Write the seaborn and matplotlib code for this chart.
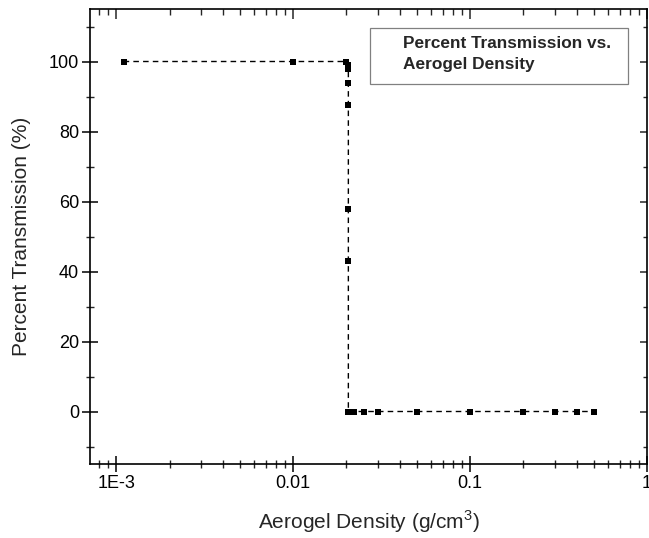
import numpy as np
import pandas as pd
import matplotlib
matplotlib.use('Agg')
import matplotlib.pyplot as plt
import matplotlib.ticker as mticker
from matplotlib.patches import Rectangle
import seaborn as sns

# --- DATA ---
density = [0.0011, 0.01, 0.0200, 0.0204, 0.0205, 0.0205, 0.0205, 0.0205, 0.0205,
           0.0205, 0.021, 0.022, 0.025, 0.03, 0.05, 0.1, 0.2, 0.3, 0.4, 0.5]
transmission = [100, 100, 100, 99, 98, 94, 87.5, 58, 43,
                0, 0, 0, 0, 0, 0, 0, 0, 0, 0, 0]
x_ticks = [1e-3, 1e-2, 1e-1, 1]
x_tick_labels = ['1E-3', '0.01', '0.1', '1']
legend_text = 'Percent Transmission vs.\nAerogel Density'

df = pd.DataFrame({'Density': density, 'Transmission': transmission})

sns.set_style('ticks')
plt.rcParams['font.family'] = ['Liberation Sans', 'DejaVu Sans']
plt.rcParams['mathtext.fontset'] = 'custom'
plt.rcParams['mathtext.rm'] = 'Liberation Sans'

fig = plt.figure(figsize=(6.49, 5.38), dpi=100)
ax = fig.add_axes([90 / 649, 74 / 538, 557 / 649, 455 / 538])

sns.lineplot(data=df, x='Density', y='Transmission', ax=ax, sort=False,
             estimator=None, color='black', linewidth=1, linestyle=(0, (4, 3)),
             marker='s', markersize=4, markeredgewidth=0)

ax.set_xscale('log')
ax.set_xlim(7.1e-4, 1.0)
ax.set_ylim(-15, 115)

ax.xaxis.set_major_locator(mticker.FixedLocator(x_ticks))
ax.xaxis.set_major_formatter(mticker.FixedFormatter(x_tick_labels))
ax.xaxis.set_minor_locator(mticker.LogLocator(base=10, subs=np.arange(2, 10)))
ax.xaxis.set_minor_formatter(mticker.NullFormatter())
ax.yaxis.set_major_locator(mticker.MultipleLocator(20))
ax.yaxis.set_minor_locator(mticker.MultipleLocator(10))

for side in ['top', 'right', 'bottom', 'left']:
    ax.spines[side].set_visible(True)
    ax.spines[side].set_linewidth(1.2)
    ax.spines[side].set_color('black')

ax.tick_params(which='major', direction='inout', length=12, width=1.1,
               labelsize=13, colors='black', pad=2)
ax.tick_params(which='minor', direction='inout', length=6, width=1.0)

# inward ticks on top and right, like the original frame
top = ax.secondary_xaxis('top')
top.set_xscale('log')
top.xaxis.set_major_locator(mticker.FixedLocator(x_ticks))
top.xaxis.set_minor_locator(mticker.LogLocator(base=10, subs=np.arange(2, 10)))
top.tick_params(which='major', direction='in', length=7, width=1.1, labeltop=False)
top.tick_params(which='minor', direction='in', length=4, width=1.0)
top.spines['top'].set_visible(False)
right = ax.secondary_yaxis('right')
right.yaxis.set_major_locator(mticker.MultipleLocator(20))
right.yaxis.set_minor_locator(mticker.MultipleLocator(10))
right.tick_params(which='major', direction='in', length=5, width=1.1, labelright=False)
right.tick_params(which='minor', direction='in', length=3, width=1.0)
right.spines['right'].set_visible(False)

ax.set_xlabel('Aerogel Density (g/cm$^3$)', fontsize=15, labelpad=12)
ax.set_ylabel('Percent Transmission (%)', fontsize=15, labelpad=13)

# legend box drawn like the Origin one: framed, symbol slot left empty
ax.add_patch(Rectangle((0.503, 0.835), 0.463, 0.123, transform=ax.transAxes,
                       facecolor='white', edgecolor='gray', linewidth=0.9,
                       zorder=5))
ax.text(0.562, 0.902, legend_text, transform=ax.transAxes, fontsize=12.4,
        fontweight='bold', ha='left', va='center', linespacing=1.5, zorder=6)

plt.savefig('out.png', dpi=100)
